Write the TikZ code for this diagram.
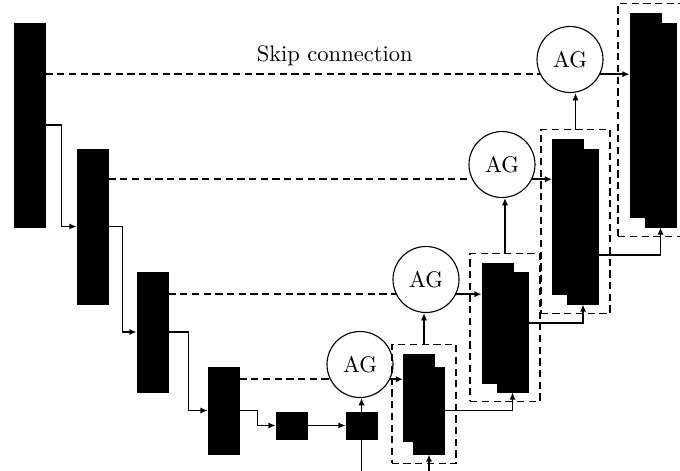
\documentclass[tikz,border=0pt]{standalone}
\usepackage{tikz}
\usetikzlibrary{arrows.meta,positioning,fit,calc}

\begin{document}
\begin{tikzpicture}[x=0.444pt,y=-0.444pt,
  >={Latex[length=3.2pt,width=2.8pt]},
  block/.style={draw=black,fill=black,minimum width=13.8pt,inner sep=0pt},
  agnode/.style={circle,draw,line width=0.5pt,minimum size=29.3pt,inner sep=0pt},
  skipline/.style={line width=0.8pt,dash pattern=on 3.2pt off 2pt},
  dashbox/.style={draw,line width=0.8pt,dash pattern=on 3.2pt off 2pt,inner xsep=5pt,inner ysep=4pt},
  conn/.style={line width=0.8pt,->}]
%Einheit: ein Bildpunkt, y zeigt nach unten
\useasboundingbox (0,0) rectangle (680,470);
\clip (0,0) rectangle (680,470);
%Encoder
\foreach \n/\x/\y/\h in {e1/29.5/125/204,e2/92.5/226.5/155,e3/152.5/332/120,e4/223.5/410.5/87}
  \node[block,minimum height=\h*0.444pt] (\n) at (\x,\y) {};
%Bottleneck
\node[block,minimum height=12pt] (b1) at (291.5,425.5) {};
\node[block,minimum height=12pt] (b2) at (361.5,425.5) {};
%Decoder: zwei versetzte Bloecke im gestrichelten Rahmen
\foreach \n/\x/\y/\h/\dx/\dy in {d1/660.5/125/204/15/10,d2/583/226.5/155/15/10,d3/512.5/332/120/15/9,d4/429/410.5/87/10/13}{
  \node[block,minimum height=\h*0.444pt] (\n-a) at (\x-\dx,\y-\dy) {};
  \node[block,minimum height=\h*0.444pt] (\n-b) at (\x,\y) {};
  \node[dashbox,fit=(\n-a)(\n-b)] (\n-box) {};
}
%Attention Gates, 14.5 ueber der Skip-Linie
\foreach \n/\x/\y in {ag1/570/74,ag2/502/179,ag3/426/294,ag4/360/379}
  \node[agnode] (\n) at (\x,\y-14.5) {AG};
%Skip-Verbindungen
\draw[skipline] (e1.east |- ag1.206) -- node[above,pos=.585] {Skip connection} (ag1.206);
\foreach \i in {2,3,4}
  \draw[skipline] (e\i.east |- ag\i.206) -- (ag\i.206);
%Abwaerts
\foreach \i/\j/\d in {e1/e2/16,e2/e3/14,e3/e4/20,e4/b1/18}
  \draw[conn] (\i.east) -- ++(\d,0) |- (\j.west);
\draw[conn] (b1) -- (b2);
\draw[conn] (b2.north) -- (b2.north |- ag4.south);
\draw[conn] (b2.south) -- ++(0,40) -| (d4-b.south);
%Aufwaerts
\foreach \n/\d in {ag1/d1,ag2/d2,ag3/d3,ag4/d4}
  \draw[conn] (\n.-26) -- (\n.-26 -| \d-a.west);
\draw[conn] (d2-box.north) -- (d2-box.north |- ag1.south);
\draw[conn] (d3-box.north) -- (d3-box.north |- ag2.south);
\draw[conn] (d4-box.north) -- (d4-box.north |- ag3.south);
\draw[conn] (d4-b.east) -| (d3-b.south);
\draw[conn] ([yshift=4pt]d3-b.east) -| (d2-b.south);
\draw[conn] ([yshift=-12.7pt]d2-b.east) -| (d1-b.south);
\end{tikzpicture}
\end{document}
